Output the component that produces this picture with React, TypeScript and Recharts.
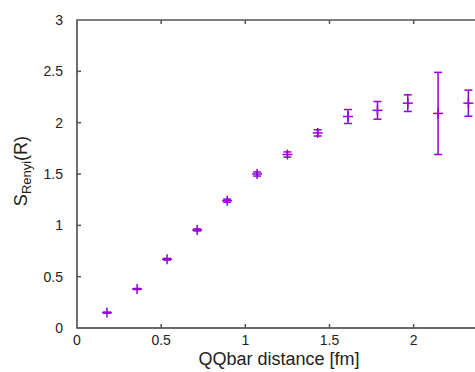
import React from "react";
import { ScatterChart, Scatter, XAxis, YAxis, ErrorBar } from "recharts";

// values
const distances = [0.178, 0.357, 0.535, 0.714, 0.892, 1.07, 1.25, 1.43, 1.61, 1.785, 1.965, 2.145, 2.325];
const entropy = [0.15, 0.38, 0.67, 0.955, 1.24, 1.5, 1.69, 1.9, 2.06, 2.12, 2.19, 2.09, 2.19];
const errors = [0.005, 0.005, 0.008, 0.01, 0.015, 0.02, 0.025, 0.03, 0.068, 0.086, 0.081, 0.4, 0.127];

const xTicks = [0, 0.5, 1, 1.5, 2];
const yTicks = [0, 0.5, 1, 1.5, 2, 2.5, 3];
const X_MAX = 2.4;
const Y_MAX = 3;

const data = distances.map((x, i) => ({ x, y: entropy[i], err: errors[i] }));

// frame corners and inward tick marks, in data units
const frame = [
  { x: X_MAX, y: Y_MAX },
  { x: 0, y: Y_MAX },
  { x: 0, y: 0 },
  { x: X_MAX, y: 0 },
];
const bottomTicks = xTicks.slice(1).map((x) => ({ x, y: 0 }));
const topTicks = xTicks.slice(1).map((x) => ({ x, y: Y_MAX }));
const leftTicks = yTicks.slice(1, -1).map((y) => ({ x: 0, y }));

const COLOR = "#9400d3";
const AXIS = "#555555";
const FONT = "'Liberation Sans', Arial, sans-serif";

const Plus = ({ cx, cy }: any) =>
  cx == null || cy == null ? null : (
    <g stroke={COLOR} strokeWidth={1.5}>
      <line x1={cx - 5} x2={cx + 5} y1={cy} y2={cy} />
      <line x1={cx} x2={cx} y1={cy - 5} y2={cy + 5} />
    </g>
  );

const Nothing = () => <g />;
const TickUp = ({ cx, cy }: any) => (
  <g stroke={AXIS} strokeWidth={1.5}><line x1={cx} x2={cx} y1={cy} y2={cy - 4} /></g>
);
const TickDown = ({ cx, cy }: any) => (
  <g stroke={AXIS} strokeWidth={1.5}><line x1={cx} x2={cx} y1={cy} y2={cy + 4} /></g>
);
const TickRight = ({ cx, cy }: any) => (
  <g stroke={AXIS} strokeWidth={1.5}><line x1={cx} x2={cx + 4} y1={cy} y2={cy} /></g>
);

const YLabel = () => (
  <text x={0} y={0} transform="translate(27,171) rotate(-90)" textAnchor="middle"
    fontFamily={FONT} fontSize={18} fill="#222">
    S
    <tspan fontSize={13} dy={4}>Renyi</tspan>
    <tspan dy={-4}>(R)</tspan>
  </text>
);

const XLabel = () => (
  <text x={279} y={365} textAnchor="middle" fontFamily={FONT} fontSize={18} fill="#222">
    QQbar distance [fm]
  </text>
);

export default function App() {
  return (
    <div style={{ position: "fixed", left: 0, top: 0, width: 475, height: 372, overflow: "hidden", background: "#fff" }}>
      <ScatterChart width={500} height={372} margin={{ top: 20, right: 19, bottom: 0, left: 0 }}>
        <XAxis type="number" dataKey="x" domain={[0, X_MAX]} ticks={xTicks} height={44}
          axisLine={{ stroke: AXIS, strokeWidth: 1 }} tickLine={false} tickSize={0} tickMargin={7}
          tick={{ fill: "#222", fontSize: 14, fontFamily: FONT }}
          label={{ content: () => <XLabel /> }} />
        <YAxis type="number" dataKey="y" domain={[0, Y_MAX]} ticks={yTicks} width={77}
          axisLine={{ stroke: AXIS, strokeWidth: 1 }} tickLine={false} tickSize={0} tickMargin={14}
          tick={{ fill: "#222", fontSize: 14, fontFamily: FONT }}
          label={{ content: () => <YLabel /> }} />
        <Scatter data={frame} line={{ stroke: AXIS, strokeWidth: 1.4 }} lineType="joint"
          shape={<Nothing />} legendType="none" isAnimationActive={false} />
        <Scatter data={bottomTicks} shape={<TickUp />} legendType="none" isAnimationActive={false} />
        <Scatter data={topTicks} shape={<TickDown />} legendType="none" isAnimationActive={false} />
        <Scatter data={leftTicks} shape={<TickRight />} legendType="none" isAnimationActive={false} />
        <Scatter data={data} shape={<Plus />} isAnimationActive={false}>
          <ErrorBar dataKey="err" direction="y" width={4} stroke={COLOR} strokeWidth={1.5} isAnimationActive={false} />
        </Scatter>
      </ScatterChart>
    </div>
  );
}
